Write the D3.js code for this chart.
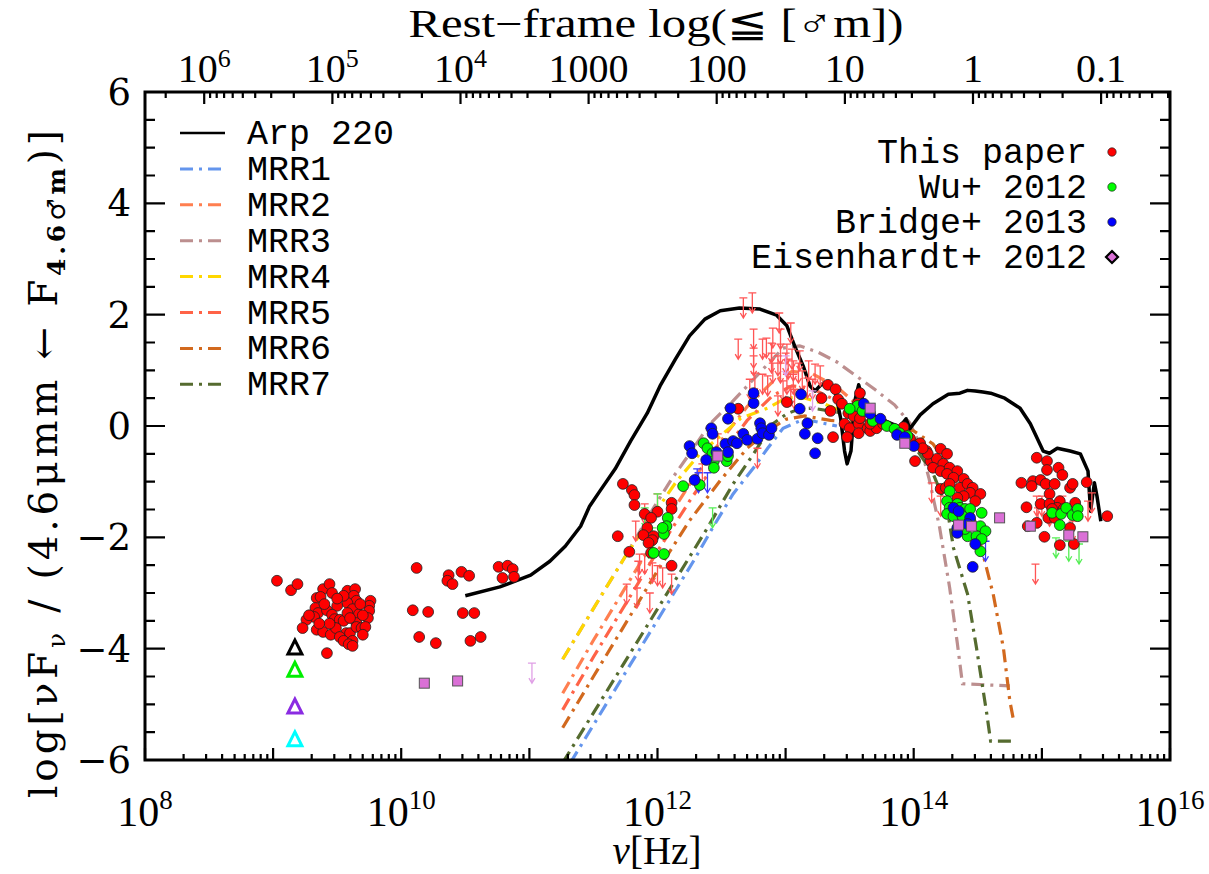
<!DOCTYPE html>
<html>
<head>
<meta charset="utf-8">
<script src="https://cdn.jsdelivr.net/npm/d3@7"></script>
<style>
body { margin: 0; background: #fff; }
text { fill: #000; }
</style>
</head>
<body>
<svg id="chart" width="1209" height="874"></svg>
<script>
// all points are [log10(nu/Hz), log(nuFnu / F4.6)]
const arp220 = [
  [10.50,-3.05],[10.77,-2.89],[11.01,-2.68],[11.16,-2.43],[11.28,-2.16],[11.40,-1.80],
  [11.47,-1.44],[11.55,-1.17],[11.67,-0.77],[11.79,-0.27],[11.92,0.23],[12.02,0.72],
  [12.14,1.20],[12.25,1.62],[12.37,1.92],[12.49,2.07],[12.64,2.12],[12.80,2.10],
  [12.93,1.99],[13.01,1.80],[13.07,1.44],[13.14,1.06],[13.19,0.72],[13.23,0.63],
  [13.28,0.75],[13.35,0.74],[13.39,0.59],[13.43,0.13],[13.46,-0.45],[13.48,-0.68],
  [13.51,-0.45],[13.54,0.45],[13.57,0.74],[13.60,0.49],[13.64,0.23],[13.74,0.13],
  [13.89,-0.02],[13.94,0.13],[13.97,-0.05],[14.05,0.20],[14.15,0.40],[14.27,0.57],
  [14.36,0.59],[14.42,0.64],[14.48,0.63],[14.54,0.61],[14.60,0.59],[14.71,0.50],
  [14.83,0.32],[14.91,0.04],[15.01,-0.45],[15.06,-0.49],[15.12,-0.40],[15.22,-0.45],
  [15.30,-0.50],[15.36,-0.81],[15.38,-1.53],[15.41,-1.02],[15.43,-1.26],[15.46,-1.71]
];

const mrr1 = [[11.32,-6.05],[12.28,-2.43],[12.43,-1.83],[12.59,-1.22],[12.75,-0.75],[12.86,-0.40],
  [12.98,-0.04],[13.11,0.09],[13.21,0.09],[13.40,0.00]];
const mrr2 = [[11.26,-4.80],[11.50,-3.85],[11.75,-2.90],[12.00,-1.95],[12.25,-1.05],[12.50,-0.25],
  [12.70,0.35],[12.90,0.80],[13.05,0.98],[13.20,0.95],[13.40,0.70],[13.55,0.40]];
const mrr3 = [[11.26,-4.19],[11.55,-3.09],[11.76,-2.30],[11.94,-1.58],[12.10,-0.99],[12.28,-0.40],
  [12.41,0.04],[12.59,0.45],[12.86,1.11],[12.98,1.40],[13.11,1.44],[13.25,1.33],[13.40,1.15],
  [13.55,0.90],[13.70,0.65],[13.85,0.38],[13.97,0.05],[14.05,-0.35],[14.12,-0.95],[14.20,-1.80],
  [14.28,-2.90],[14.34,-3.90],[14.38,-4.63],[14.75,-4.67]];
const mrr4 = [[11.26,-4.19],[11.55,-3.09],[11.76,-2.30],[11.96,-1.62],[12.15,-0.99],[12.33,-0.50],
  [12.47,-0.22],[12.65,0.14],[12.86,0.32],[13.00,0.50],[13.12,0.52],[13.30,0.40],[13.50,0.20]];
const mrr5 = [[11.26,-5.10],[11.50,-4.15],[11.75,-3.20],[12.00,-2.25],[12.25,-1.35],[12.50,-0.50],
  [12.70,0.10],[12.90,0.55],[13.05,0.72],[13.20,0.68],[13.40,0.45],[13.55,0.20]];
const mrr6 = [[11.26,-5.42],[11.50,-4.50],[11.75,-3.55],[12.00,-2.60],[12.25,-1.70],[12.50,-0.95],
  [12.70,-0.40],[12.86,-0.09],[13.00,0.12],[13.15,0.18],[13.35,0.10],[13.60,0.05],[13.85,-0.02],
  [14.00,-0.09],[14.15,-0.32],[14.28,-0.75],[14.46,-1.58],[14.54,-2.30],[14.62,-3.02],
  [14.70,-3.99],[14.75,-4.94],[14.78,-5.30]];
const mrr7 = [[11.26,-6.05],[12.39,-1.83],[12.59,-1.04],[12.75,-0.50],[12.90,0.04],[13.01,0.22],
  [13.11,0.31],[13.21,0.32],[13.40,0.25],[13.60,0.12],[13.80,-0.05],[14.00,-0.35],[14.15,-0.85],
  [14.26,-1.47],[14.31,-2.19],[14.42,-3.02],[14.49,-3.99],[14.57,-5.17],[14.60,-5.66],[14.78,-5.66]];

const mrrNames = ['MRR1','MRR2','MRR3','MRR4','MRR5','MRR6','MRR7'];
const mrrColors = ['#6495ed','#ff7f50','#bc8f8f','#ffd700','#ff6347','#d2691e','#556b2f'];

// This paper
const redPts = [
  [9.03,-2.78],[9.14,-2.95],[9.19,-2.84],[9.39,-2.93],[9.44,-2.84],[9.46,-3.00],[9.34,-3.09],
  [9.37,-3.07],[9.58,-2.96],[9.64,-2.93],[9.63,-3.05],[9.65,-3.14],[9.58,-3.18],[9.50,-3.23],
  [9.33,-3.27],[9.35,-3.36],[9.32,-3.43],[9.42,-3.31],[9.46,-3.39],[9.48,-3.47],[9.52,-3.48],
  [9.55,-3.50],[9.62,-3.29],[9.58,-3.36],[9.67,-3.38],[9.76,-3.14],[9.75,-3.23],[9.75,-3.32],
  [9.74,-3.45],[9.26,-3.48],[9.23,-3.63],[9.34,-3.66],[9.39,-3.70],[9.45,-3.75],[9.49,-3.63],
  [9.57,-3.72],[9.60,-3.72],[9.65,-3.54],[9.65,-3.61],[9.69,-3.63],[9.72,-3.61],[9.70,-3.75],
  [9.52,-3.79],[9.55,-3.86],[9.62,-3.86],[9.59,-3.92],[9.62,-3.95],[9.42,-4.08],[9.40,-3.20],
  [9.55,-3.05],[9.60,-3.45],[9.68,-3.20],[9.44,-3.55],[9.50,-3.10],[9.28,-3.40],[9.70,-3.40],
  [9.36,-3.55],
  [10.12,-2.55],[10.37,-2.68],[10.36,-2.78],[10.40,-2.84],[10.47,-2.62],[10.53,-2.69],
  [10.76,-2.53],[10.83,-2.51],[10.87,-2.57],[10.79,-2.73],[10.88,-2.71],[10.09,-3.31],
  [10.21,-3.34],[10.48,-3.36],[10.57,-3.36],[10.14,-3.79],[10.27,-3.90],[10.54,-3.86],[10.62,-3.79],
  [11.73,-1.04],[11.80,-1.15],[11.82,-1.24],[11.82,-1.42],[12.11,-1.38],[12.11,-1.49],[12.00,-1.54],
  [11.90,-1.58],[11.95,-1.65],[11.92,-1.83],[11.89,-1.96],[11.97,-1.98],[11.96,-2.05],[11.93,-2.10],
  [11.69,-1.98],[11.78,-2.26],[11.95,-2.28],[12.11,-2.51],[12.63,0.31],
  [13.01,0.43],[13.28,0.50],[13.33,0.74],[13.39,0.66],[13.41,0.48],[13.44,0.40],[13.35,0.27],
  [13.49,0.23],[13.53,0.18],[13.46,0.04],[13.50,-0.04],[13.57,0.04],[13.57,-0.13],[13.64,-0.04],
  [13.66,-0.09],[13.71,-0.04],[13.76,0.04],[13.37,-0.20],[13.48,-0.20],[13.58,0.59],[13.56,0.40],
  [13.58,0.14],[13.66,0.04],[13.92,-0.02],[14.00,-0.32],[14.05,-0.31],[14.10,-0.45],[14.01,-0.63],
  [14.13,-0.63],[14.21,-0.41],[14.26,-0.50],[14.18,-0.59],[14.23,-0.68],[14.15,-0.75],[14.21,-0.81],
  [14.28,-0.75],[14.34,-0.81],[14.26,-0.86],[14.31,-0.93],[14.39,-0.95],[14.21,-1.13],[14.25,-1.11],
  [14.28,-1.04],[14.36,-1.11],[14.42,-1.04],[14.46,-1.11],[14.44,-1.20],[14.52,-1.22],[14.48,-1.35],
  [14.39,-1.26],[14.34,-1.29],[14.11,-0.50],[14.07,-0.40],[13.97,-0.22],
  [14.84,-1.02],[14.96,-0.57],[15.04,-0.63],[15.04,-0.79],[15.13,-0.75],[15.16,-0.88],[14.93,-0.99],
  [14.99,-0.97],[15.03,-1.04],[15.10,-1.04],[15.22,-1.11],[15.24,-1.04],[14.92,-1.08],[15.06,-1.22],
  [14.88,-1.46],[14.99,-1.40],[15.06,-1.40],[15.14,-1.35],[15.26,-1.38],[15.12,-1.47],[15.08,-1.49],
  [15.17,-1.49],[15.05,-1.65],[15.10,-1.65],[14.96,-1.74],[14.89,-1.80],[15.02,-1.99],[15.14,-2.14],
  [15.25,-2.12],[15.22,-1.83],[15.35,-1.01],[15.51,-1.62]
];

// Wu+ 2012
const greenPts = [
  [12.36,-0.31],[12.39,-0.40],[12.43,-0.49],[12.44,-0.63],[12.44,-0.75],[12.54,-0.63],[12.55,-0.54],
  [12.20,-1.08],[12.33,-1.06],[12.08,-1.65],[12.07,-1.80],[12.05,-1.94],[12.05,-2.30],[12.04,-1.83],
  [11.97,-2.28],[13.56,0.36],[13.60,0.27],[13.68,0.09],[13.79,0.00],[13.85,-0.05],[13.89,-0.13],
  [13.95,-0.18],[13.50,0.31],[14.28,-1.17],[14.26,-1.35],[14.28,-1.47],[14.34,-1.40],[14.36,-1.47],
  [14.40,-1.49],[14.44,-1.49],[14.26,-1.58],[14.31,-1.62],[14.38,-1.62],[14.44,-1.71],[14.53,-1.56],
  [14.52,-1.80],[14.56,-1.89],[14.42,-1.98],[14.49,-1.98],[14.53,-2.03],[14.52,-2.25],[14.40,-1.85],
  [15.08,-1.56],[15.15,-1.58],[15.19,-1.47],[15.24,-1.60],[15.28,-1.49],[15.28,-1.62],[15.14,-1.78]
];

// Bridge+ 2013
const bluePts = [
  [12.25,-0.36],[12.27,-0.49],[12.38,-0.61],[12.42,-0.04],[12.43,-0.14],[12.57,0.32],[12.75,0.41],
  [12.75,0.59],[12.53,-0.32],[12.55,-0.47],[12.59,-0.27],[12.62,-0.31],[12.67,-0.14],[12.70,-0.25],
  [12.29,-0.97],[12.46,-0.47],[12.55,0.13],[12.78,-0.23],[12.80,0.05],[12.81,-0.04],[12.82,-0.13],
  [12.87,-0.16],[12.89,-0.04],[13.12,0.57],[13.11,0.31],[13.17,0.05],[13.15,-0.14],[13.25,-0.22],
  [13.23,-0.49],[13.61,0.40],[13.66,0.22],[13.74,0.13],[13.87,-0.16],[13.93,-0.20],[14.00,-0.36],
  [14.31,-1.47],[14.35,-1.53],[14.44,-1.65],[14.42,-1.76],[14.34,-1.83],[14.34,-1.92],[14.48,-2.12],
  [14.46,-2.53]
];

// Eisenhardt+ 2012
const pinkPts = [
  [10.18,-4.62],[10.44,-4.58],[12.47,-0.54],[13.66,0.32],[13.93,-0.31],[14.35,-1.78],[14.45,-1.80],
  [14.67,-1.65],[14.91,-1.80],[15.21,-1.96],[15.32,-1.99]
];

// upper limits
const redLim = [
  [12.67,2.30],[12.74,2.39],[12.75,1.74],[12.63,1.56],[12.82,1.56],[12.85,1.58],[12.90,1.76],
  [12.95,2.03],[13.04,1.85],[12.96,1.74],[12.89,1.49],[12.75,1.40],[12.75,1.26],[12.96,1.47],
  [13.01,1.47],[12.89,1.31],[12.94,1.26],[13.00,1.31],[13.05,1.38],[13.11,1.35],[12.90,1.13],
  [12.96,1.13],[13.02,1.20],[13.06,1.17],[13.10,1.13],[13.18,1.17],[13.23,1.11],[13.27,1.08],
  [13.13,0.99],[13.17,0.86],[13.06,0.93],[13.01,0.93],[12.76,0.95],[12.82,0.93],[12.86,0.90],
  [12.72,0.84],[12.98,0.81],[13.04,0.72],[13.07,0.66],[12.94,0.54],[13.21,0.84],[12.47,-0.14],
  [12.78,-0.40],[12.35,-0.68],[12.00,-1.22],[11.90,-1.40],[11.83,-1.71],[11.86,-2.30],[11.90,-2.30],
  [11.85,-2.43],[11.96,-2.46],[12.00,-2.51],[12.04,-2.55],[11.76,-2.84],[11.84,-2.91],[11.94,-3.00],
  [12.11,-2.66],[14.14,-1.02],[14.21,-1.26],[14.96,-1.26],[15.00,-1.26],[14.97,-1.47],[15.06,-1.44],
  [15.16,-1.26],[15.24,-1.71],[15.36,-1.35],[15.39,-1.20],[14.95,-2.48]
];
const greenLim = [[12.00,-1.22],[11.90,-1.47],[11.96,-1.83],[12.43,-1.47],[11.93,-2.01],
  [15.11,-2.01],[15.21,-2.07],[15.29,-2.12]];
const blueLim = [[12.31,-0.77],[12.39,-0.84],[12.32,-0.84],[14.56,-2.07]];
const pinkLim = [[11.02,-4.26],[13.00,1.26],[13.21,0.63]];

// open triangles at the low-frequency end
const triPts = [[9.17,-3.97],[9.17,-4.37],[9.17,-5.03],[9.17,-5.62]];
const triColors = ['#000000','#00ee00','#8a2be2','#00ffff'];

const yTicks = [-6,-4,-2,0,2,4,6];
const lamLabels = [[1e6,'10','6'],[1e5,'10','5'],[1e4,'10','4'],[1000,'1000',''],[100,'100',''],
  [10,'10',''],[1,'1',''],[0.1,'0.1','']];

const svg = d3.select('#chart');
const L = 145, R = 1170, T = 92, B = 760;

const xS = d3.scaleLog().domain([1e8, 1e16]).range([L, R]);
const yS = d3.scaleLinear().domain([-6, 6]).range([B, T]);
const lamS = d3.scaleLog().domain([2.9e6, 2.9e-2]).range([L, R]);
const px = d => xS(Math.pow(10, d[0]));
const py = d => yS(d[1]);

svg.append('defs').append('clipPath').attr('id', 'plotclip')
  .append('rect').attr('x', L).attr('y', T).attr('width', R - L).attr('height', B - T);

const plot = svg.append('g').attr('clip-path', 'url(#plotclip)');

// model templates
const line = d3.line().x(px).y(py);
[mrr1, mrr2, mrr3, mrr4, mrr5, mrr6, mrr7].forEach((s, i) => {
  plot.append('path').datum(s).attr('d', line)
    .attr('fill', 'none').attr('stroke', mrrColors[i]).attr('stroke-width', 3.2)
    .attr('stroke-dasharray', '13,6,3,6');
});
plot.append('path').datum(arp220).attr('d', line)
  .attr('fill', 'none').attr('stroke', '#000').attr('stroke-width', 3.5).attr('stroke-linejoin', 'round');

// upper limit arrows
function drawLimits(data, color) {
  const g = plot.append('g');
  g.selectAll('path').data(data).join('path')
    .attr('d', d => {
      const cx = px(d), cy = py(d);
      return `M${cx - 4},${cy}H${cx + 4}M${cx},${cy}V${cy + 20}M${cx - 3},${cy + 15}L${cx},${cy + 20}L${cx + 3},${cy + 15}`;
    })
    .attr('stroke', color).attr('stroke-width', 1.3).attr('fill', 'none');
}
drawLimits(redLim, '#ff5555');
drawLimits(greenLim, '#55ee55');
drawLimits(blueLim, '#3a3aff');
drawLimits(pinkLim, '#e0a0e6');

function drawDots(data, color) {
  plot.append('g').selectAll('circle').data(data).join('circle')
    .attr('cx', px).attr('cy', py).attr('r', 5.4)
    .attr('fill', color).attr('stroke', '#222').attr('stroke-width', 0.8);
}
drawDots(redPts, '#ff0000');
drawDots(greenPts, '#00ff00');
drawDots(bluePts, '#0000ff');

plot.append('g').selectAll('rect').data(pinkPts).join('rect')
  .attr('x', d => px(d) - 5).attr('y', d => py(d) - 5).attr('width', 10).attr('height', 10)
  .attr('fill', '#da70d6').attr('stroke', '#555').attr('stroke-width', 1);

plot.append('g').selectAll('path').data(triPts).join('path')
  .attr('d', d => { const cx = px(d), cy = py(d); return `M${cx - 7},${cy + 7}L${cx + 7},${cy + 7}L${cx},${cy - 7}Z`; })
  .attr('fill', 'none').attr('stroke', (d, i) => triColors[i]).attr('stroke-width', 3);

// frame
svg.append('rect').attr('x', L).attr('y', T).attr('width', R - L).attr('height', B - T)
  .attr('fill', 'none').attr('stroke', '#000').attr('stroke-width', 3);

// tick values
const decades = d3.range(8, 17).map(e => Math.pow(10, e));
const minorNu = [];
for (let e = 8; e < 16; e++) for (let m = 2; m < 10; m++) minorNu.push(m * Math.pow(10, e));
const lamMinor = [];
for (let e = -2; e <= 6; e++) for (let m = 2; m < 10; m++) {
  const v = m * Math.pow(10, e);
  if (v > 2.9e-2 && v < 2.9e6) lamMinor.push(v);
}
const lamMajor = [1e6, 1e5, 1e4, 1e3, 100, 10, 1, 0.1];
const yMinor = d3.range(-6, 6.01, 0.5).filter(v => Math.abs(v % 2) > 0.01);

// inward ticks as one path per set, positions from the scales
function hTicks(scale, vals, y0, len) {
  const d = vals.map(v => `M${scale(v).toFixed(1)},${y0}V${y0 + len}`).join('');
  svg.append('path').attr('d', d).attr('fill', 'none').attr('stroke', '#000').attr('stroke-width', 2.2);
}
function vTicks(scale, vals, x0, len) {
  const d = vals.map(v => `M${x0},${scale(v).toFixed(1)}H${x0 + len}`).join('');
  svg.append('path').attr('d', d).attr('fill', 'none').attr('stroke', '#000').attr('stroke-width', 2.2);
}
hTicks(xS, decades, B, -12);
hTicks(xS, minorNu, B, -6);
hTicks(lamS, lamMajor, T, 12);
hTicks(lamS, lamMinor, T, 6);
vTicks(yS, yTicks, L, 20);
vTicks(yS, yMinor, L, 10);
vTicks(yS, yTicks, R, -20);
vTicks(yS, yMinor, R, -10);

// tick labels
const serif = 'Liberation Serif, serif';
d3.range(8, 17, 2).forEach(e => {
  const t = svg.append('text').attr('x', xS(Math.pow(10, e))).attr('y', 826)
    .attr('text-anchor', 'middle').attr('font-family', serif).attr('font-size', 42);
  t.append('tspan').text('10');
  t.append('tspan').attr('dy', -17).attr('font-size', 27).text(e);
});
lamLabels.forEach(d => {
  const t = svg.append('text').attr('x', lamS(d[0])).attr('y', 82)
    .attr('text-anchor', 'middle').attr('font-family', serif).attr('font-size', 40);
  t.append('tspan').text(d[1]);
  if (d[2]) t.append('tspan').attr('dy', -15).attr('font-size', 26).text(d[2]);
});
yTicks.forEach(v => {
  svg.append('text').attr('x', 131).attr('y', yS(v) + 13)
    .attr('text-anchor', 'end').attr('font-family', 'DejaVu Serif, serif').attr('font-size', 37)
    .text(v < 0 ? '\u2212' + Math.abs(v) : v);
});

// axis titles
const xt = svg.append('text').attr('x', 657).attr('y', 864).attr('text-anchor', 'middle')
  .attr('font-family', serif).attr('font-size', 39);
xt.append('tspan').attr('font-style', 'italic').text('\u03bd');
xt.append('tspan').text('[Hz]');

svg.append('text').attr('x', 656).attr('y', 37).attr('text-anchor', 'middle')
  .attr('font-family', serif).attr('font-size', 40)
  .attr('textLength', 495).attr('lengthAdjust', 'spacingAndGlyphs')
  .text('Rest\u2212frame log(\u2266 [\u2642m])');

const yt = svg.append('text').attr('transform', 'translate(57,464) rotate(-90)')
  .attr('text-anchor', 'middle').attr('font-family', 'DejaVu Serif, serif').attr('font-size', 39)
  .attr('textLength', 668).attr('lengthAdjust', 'spacing');
yt.append('tspan').text('log[\u03bdF');
yt.append('tspan').attr('dy', 8).attr('font-size', 25).text('\u03bd');
yt.append('tspan').attr('dy', -8).text(' / (4.6\u03bcmm \u2190 F');
yt.append('tspan').attr('dy', 8).attr('font-size', 25).attr('font-weight', 'bold').text('4.6\u2642m');
yt.append('tspan').attr('dy', -8).text(')]');

// left legend: templates
const mono = 'Liberation Mono, monospace';
const legRows = [{name: 'Arp 220', color: '#000', dash: null}]
  .concat(mrrNames.map((n, i) => ({name: n, color: mrrColors[i], dash: '13,6,3,6'})));
legRows.forEach((r, i) => {
  const yy = 133 + i * 35.9;
  svg.append('line').attr('x1', 180).attr('x2', 225).attr('y1', yy).attr('y2', yy)
    .attr('stroke', r.color).attr('stroke-width', r.dash ? 3 : 2.5)
    .attr('stroke-dasharray', r.dash);
  svg.append('text').attr('x', 247).attr('y', yy + 11).attr('font-family', mono).attr('font-size', 35)
    .text(r.name);
});

// right legend: data sets
const setNames = ['This paper', 'Wu+ 2012', 'Bridge+ 2013', 'Eisenhardt+ 2012'];
const setColors = ['#ff0000', '#00ff00', '#0000ff', '#da70d6'];
setNames.forEach((n, i) => {
  const yy = 152 + i * 35;
  svg.append('text').attr('x', 1087).attr('y', yy + 11).attr('text-anchor', 'end')
    .attr('font-family', mono).attr('font-size', 35).text(n);
  if (i < 3) {
    svg.append('circle').attr('cx', 1112).attr('cy', yy).attr('r', 4.2)
      .attr('fill', setColors[i]).attr('stroke', '#222').attr('stroke-width', 0.7);
  } else {
    svg.append('path').attr('d', `M1112,${yy - 6}L1118,${yy}L1112,${yy + 6}L1106,${yy}Z`)
      .attr('fill', setColors[i]).attr('stroke', '#000').attr('stroke-width', 2.2);
  }
});
</script>
</body>
</html>
